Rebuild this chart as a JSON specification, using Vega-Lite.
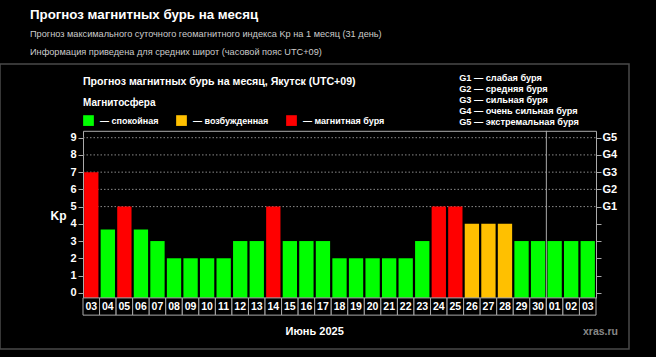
{
  "$schema": "https://vega.github.io/schema/vega-lite/v6.json",
  "width": 629,
  "height": 285,
  "autosize": {"type": "none"},
  "padding": {"top": 64, "left": 0, "right": 27, "bottom": 8},
  "background": "#000000",
  "config": {
    "view": {"stroke": "#4a4a4a", "strokeWidth": 1.5},
    "font": "Liberation Sans",
    "legend": {"padding": 0}
  },
  "title": {
    "text": "Прогноз магнитных бурь на месяц",
    "subtitle": ["Прогноз максимального суточного геомагнитного индекса Kp на 1 месяц (31 день)", "Информация приведена для средних широт (часовой пояс UTC+09)"],
    "anchor": "start",
    "frame": "group",
    "dx": 30,
    "color": "#ffffff",
    "fontSize": 13.3,
    "fontWeight": "bold",
    "subtitleColor": "#cccccc",
    "subtitleFontSize": 9.2,
    "subtitleLineHeight": 17.4,
    "subtitlePadding": 9,
    "offset": 7
  },
  "datasets": {
    "kp": [
      {"date": "2025-06-03", "day": "03", "kp": 7, "status": "магнитная буря"},
      {"date": "2025-06-04", "day": "04", "kp": 3.67, "status": "спокойная"},
      {"date": "2025-06-05", "day": "05", "kp": 5, "status": "магнитная буря"},
      {"date": "2025-06-06", "day": "06", "kp": 3.67, "status": "спокойная"},
      {"date": "2025-06-07", "day": "07", "kp": 3, "status": "спокойная"},
      {"date": "2025-06-08", "day": "08", "kp": 2, "status": "спокойная"},
      {"date": "2025-06-09", "day": "09", "kp": 2, "status": "спокойная"},
      {"date": "2025-06-10", "day": "10", "kp": 2, "status": "спокойная"},
      {"date": "2025-06-11", "day": "11", "kp": 2, "status": "спокойная"},
      {"date": "2025-06-12", "day": "12", "kp": 3, "status": "спокойная"},
      {"date": "2025-06-13", "day": "13", "kp": 3, "status": "спокойная"},
      {"date": "2025-06-14", "day": "14", "kp": 5, "status": "магнитная буря"},
      {"date": "2025-06-15", "day": "15", "kp": 3, "status": "спокойная"},
      {"date": "2025-06-16", "day": "16", "kp": 3, "status": "спокойная"},
      {"date": "2025-06-17", "day": "17", "kp": 3, "status": "спокойная"},
      {"date": "2025-06-18", "day": "18", "kp": 2, "status": "спокойная"},
      {"date": "2025-06-19", "day": "19", "kp": 2, "status": "спокойная"},
      {"date": "2025-06-20", "day": "20", "kp": 2, "status": "спокойная"},
      {"date": "2025-06-21", "day": "21", "kp": 2, "status": "спокойная"},
      {"date": "2025-06-22", "day": "22", "kp": 2, "status": "спокойная"},
      {"date": "2025-06-23", "day": "23", "kp": 3, "status": "спокойная"},
      {"date": "2025-06-24", "day": "24", "kp": 5, "status": "магнитная буря"},
      {"date": "2025-06-25", "day": "25", "kp": 5, "status": "магнитная буря"},
      {"date": "2025-06-26", "day": "26", "kp": 4, "status": "возбужденная"},
      {"date": "2025-06-27", "day": "27", "kp": 4, "status": "возбужденная"},
      {"date": "2025-06-28", "day": "28", "kp": 4, "status": "возбужденная"},
      {"date": "2025-06-29", "day": "29", "kp": 3, "status": "спокойная"},
      {"date": "2025-06-30", "day": "30", "kp": 3, "status": "спокойная"},
      {"date": "2025-07-01", "day": "01", "kp": 3, "status": "спокойная"},
      {"date": "2025-07-02", "day": "02", "kp": 3, "status": "спокойная"},
      {"date": "2025-07-03", "day": "03", "kp": 3, "status": "спокойная"}
    ],
    "glevels": [
      {"g": "G1 — слабая буря", "kp": 5},
      {"g": "G2 — средняя буря", "kp": 6},
      {"g": "G3 — сильная буря", "kp": 7},
      {"g": "G4 — очень сильная буря", "kp": 8},
      {"g": "G5 — экстремальная буря", "kp": 9}
    ],
    "one": [{}]
  },
  "data": {"name": "kp"},
  "layer": [
    {
      "data": {"name": "glevels"},
      "mark": {"type": "rule", "color": "#8a8a8a", "strokeWidth": 1, "strokeDash": [1.5, 2]},
      "encoding": {
        "x": {"datum": "2025-06-03", "bandPosition": 0},
        "x2": {"datum": "2025-07-03", "bandPosition": 1},
        "y": {"field": "kp", "type": "quantitative", "axis": null}
      }
    },
    {
      "mark": {"type": "bar", "width": {"band": 0.865}},
      "encoding": {
        "x": {
          "field": "date", "type": "ordinal",
          "scale": {"range": [83, 596], "paddingInner": 0, "paddingOuter": 0},
          "axis": {"orient": "top", "offset": -66.8, "labels": false, "ticks": false, "title": null, "domainColor": "#aaaaaa", "grid": false}
        },
        "y": {
          "field": "kp", "type": "quantitative",
          "scale": {"domain": [-0.3, 9.4], "range": [233.9, 66.8], "nice": false, "zero": false},
          "axis": {
            "orient": "left", "offset": -83, "values": [0, 1, 2, 3, 4, 5, 6, 7, 8, 9],
            "labelColor": "#ffffff", "labelFontSize": 11, "labelFontWeight": "bold", "labelPadding": 2,
            "tickColor": "#aaaaaa", "tickSize": 5, "domainColor": "#aaaaaa", "grid": false,
            "title": "Kp", "titleAngle": 0, "titleColor": "#ffffff", "titleFontSize": 12, "titleFontWeight": "bold",
            "titleX": -25, "titleY": 151.7, "titleAlign": "center", "titleBaseline": "middle"
          }
        },
        "y2": {"datum": -0.3},
        "color": {
          "field": "status", "type": "nominal",
          "scale": {"domain": ["спокойная", "возбужденная", "магнитная буря"], "range": ["#00ff00", "#ffc000", "#ff0000"]},
          "legend": {
            "orient": "none", "legendX": 83, "legendY": 34, "direction": "horizontal",
            "title": "Магнитосфера", "titleColor": "#ffffff", "titleFontSize": 10, "titleFontWeight": "bold", "titlePadding": 7,
            "labelColor": "#ffffff", "labelFontSize": 9, "labelFontWeight": "bold", "labelOffset": 6,
            "symbolType": "square", "symbolSize": 115, "symbolStrokeWidth": 0, "symbolOpacity": 1,
            "columnPadding": 17, "labelExpr": "'— ' + datum.label"
          }
        }
      }
    },
    {
      "data": {"name": "glevels"},
      "mark": {"type": "point", "opacity": 0},
      "encoding": {
        "y": {
          "field": "kp", "type": "quantitative",
          "axis": {
            "orient": "right", "offset": -33, "values": [0, 1, 2, 3, 4, 5, 6, 7, 8, 9],
            "labelExpr": "datum.value >= 5 ? 'G' + (datum.value - 4) : ''",
            "labelColor": "#ffffff", "labelFontSize": 11, "labelFontWeight": "bold", "labelPadding": 1,
            "tickColor": "#aaaaaa", "tickSize": 5, "domainColor": "#aaaaaa",
            "grid": false, "title": null
          }
        },
        "shape": {
          "field": "g", "type": "nominal",
          "legend": {
            "orient": "none", "legendX": 450, "legendY": 9, "direction": "vertical", "title": null,
            "labelColor": "#ffffff", "labelFontSize": 9.2, "labelFontWeight": "bold", "labelOffset": 0,
            "symbolSize": 0, "symbolOpacity": 0, "symbolStrokeWidth": 0, "rowPadding": 1
          }
        }
      }
    },
    {
      "mark": {"type": "rect", "fill": "#000000", "stroke": "#aaaaaa", "strokeWidth": 1},
      "encoding": {
        "x": {"field": "date", "type": "ordinal"},
        "y": {"datum": -0.3, "axis": null},
        "y2": {"datum": -1.3}
      }
    },
    {
      "mark": {"type": "text", "color": "#ffffff", "fontSize": 10.5, "fontWeight": "bold", "baseline": "middle"},
      "encoding": {
        "x": {"field": "date", "type": "ordinal"},
        "y": {"datum": -0.8, "axis": null},
        "text": {"field": "day"}
      }
    },
    {
      "data": {"name": "one"},
      "mark": {"type": "rule", "color": "#aaaaaa", "strokeWidth": 1},
      "encoding": {
        "x": {"datum": "2025-07-01", "bandPosition": 0},
        "y": {"datum": 9.4, "axis": null},
        "y2": {"datum": -1.3}
      }
    },
    {
      "data": {"name": "one"},
      "mark": {"type": "text", "color": "#ffffff", "fontSize": 10.6, "fontWeight": "bold", "align": "left", "baseline": "middle"},
      "encoding": {
        "x": {"datum": "2025-06-03", "bandPosition": 0},
        "y": {"datum": 12.25, "axis": null},
        "text": {"value": "Прогноз магнитных бурь на месяц, Якутск (UTC+09)"}
      }
    },
    {
      "data": {"name": "one"},
      "mark": {"type": "text", "color": "#ffffff", "fontSize": 11, "fontWeight": "bold", "align": "center", "baseline": "middle"},
      "encoding": {
        "x": {"datum": "2025-06-17", "bandPosition": 0},
        "y": {"datum": -2.28, "axis": null},
        "text": {"value": "Июнь 2025"}
      }
    },
    {
      "data": {"name": "one"},
      "mark": {"type": "text", "color": "#888888", "fontSize": 10.5, "fontWeight": "bold", "align": "right", "baseline": "middle", "dx": 22},
      "encoding": {
        "x": {"datum": "2025-07-03", "bandPosition": 1},
        "y": {"datum": -2.3, "axis": null},
        "text": {"value": "xras.ru"}
      }
    }
  ],
  "resolve": {"axis": {"y": "independent"}}
}
